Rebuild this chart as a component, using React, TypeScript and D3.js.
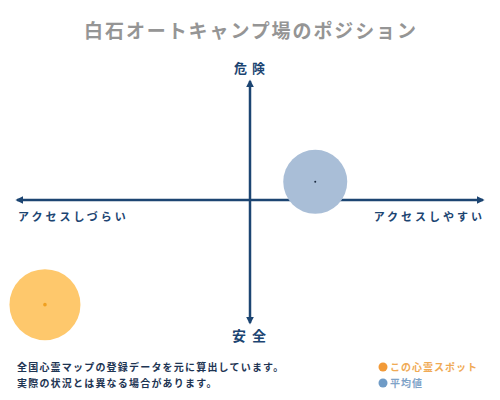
import React, { useRef, useEffect } from "react";
import * as d3 from "d3";

// positions on the access (x) / danger (y) plane, -1..1
const spotNames = ["この心霊スポット", "平均値"];
const spotX = [-0.88, 0.28];
const spotY = [-0.865, 0.15];
const spotRadius = [35.5, 32];
const spotFill = ["#fec86c", "#a9bed7"];
const spotDot = ["#f0a020", "#1b2a40"];
const legendColors = ["#f29a38", "#6f9bc6"];
const legendText = ["#f0aa55", "#7fa3c8"];

const notes = [
  "全国心霊マップの登録データを元に算出しています。",
  "実際の状況とは異なる場合があります。"
];

const FONT = "'Noto Sans CJK JP', sans-serif";
const NAVY = "#1c4572";

const App = () => {
  const node: any = useRef();

  useEffect(() => {
    const width = 500,
      height = 400;
    const svg = d3.select(node.current);
    svg.selectAll("*").remove();
    svg.attr("width", width).attr("height", height);

    const x = d3.scaleLinear().domain([-1, 1]).range([17, 483]);
    const y = d3.scaleLinear().domain([-1, 1]).range([321, 79]);

    svg
      .append("text")
      .attr("x", 251)
      .attr("y", 38)
      .attr("text-anchor", "middle")
      .attr("font-family", FONT)
      .attr("font-size", 19)
      .attr("font-weight", "bold")
      .attr("letter-spacing", 1.9)
      .attr("fill", "#959595")
      .text("白石オートキャンプ場のポジション");

    // arrow heads
    const defs = svg.append("defs");
    defs
      .append("marker")
      .attr("id", "arr")
      .attr("viewBox", "0 0 10 10")
      .attr("refX", 8)
      .attr("refY", 5)
      .attr("markerWidth", 3.2)
      .attr("markerHeight", 3.2)
      .attr("orient", "auto-start-reverse")
      .append("path")
      .attr("d", "M0,0L10,5L0,10z")
      .attr("fill", NAVY);

    const axes = svg.append("g").attr("class", "axes");
    axes
      .append("line")
      .attr("x1", x(-1))
      .attr("x2", x(1))
      .attr("y1", y(0))
      .attr("y2", y(0))
      .attr("stroke", NAVY)
      .attr("stroke-width", 2.5)
      .attr("marker-start", "url(#arr)")
      .attr("marker-end", "url(#arr)");
    axes
      .append("line")
      .attr("x1", x(0))
      .attr("x2", x(0))
      .attr("y1", y(-1) + 2)
      .attr("y2", y(1) + 2)
      .attr("stroke", NAVY)
      .attr("stroke-width", 2.5)
      .attr("marker-start", "url(#arr)")
      .attr("marker-end", "url(#arr)");

    const label = (tx: number, ty: number, t: string, anchor: string, size: number, ls: number) =>
      svg
        .append("text")
        .attr("x", tx)
        .attr("y", ty)
        .attr("text-anchor", anchor)
        .attr("font-family", FONT)
        .attr("font-size", size)
        .attr("font-weight", "bold")
        .attr("letter-spacing", ls)
        .attr("fill", NAVY)
        .text(t);

    label(252, 73, "危険", "middle", 13, 5);
    label(252, 341, "安全", "middle", 14, 6);
    label(18, 221, "アクセスしづらい", "start", 11, 3);
    label(485, 221, "アクセスしやすい", "end", 11, 3);

    // bubbles
    const spots = svg.append("g").attr("class", "spots");
    spots
      .selectAll("circle.bubble")
      .data(spotNames)
      .enter()
      .append("circle")
      .attr("class", "bubble")
      .attr("cx", (_, i) => x(spotX[i]))
      .attr("cy", (_, i) => y(spotY[i]))
      .attr("r", (_, i) => spotRadius[i])
      .attr("fill", (_, i) => spotFill[i]);
    spots
      .selectAll("circle.dot")
      .data(spotNames)
      .enter()
      .append("circle")
      .attr("class", "dot")
      .attr("cx", (_, i) => x(spotX[i]))
      .attr("cy", (_, i) => y(spotY[i]))
      .attr("r", (_, i) => (i === 0 ? 1.8 : 1))
      .attr("fill", (_, i) => spotDot[i]);

    // notes
    svg
      .append("g")
      .selectAll("text")
      .data(notes)
      .enter()
      .append("text")
      .attr("x", 17)
      .attr("y", (_, i) => 371 + i * 16)
      .attr("font-family", FONT)
      .attr("font-size", 10)
      .attr("font-weight", "bold")
      .attr("letter-spacing", 1.2)
      .attr("fill", "#1e3553")
      .text(d => d);

    // legend
    const legend = svg
      .append("g")
      .selectAll("g")
      .data(spotNames)
      .enter()
      .append("g")
      .attr("transform", (_, i) => `translate(383,${367 + i * 16})`);
    legend
      .append("circle")
      .attr("r", 4.5)
      .attr("fill", (_, i) => legendColors[i]);
    legend
      .append("text")
      .attr("x", 7)
      .attr("y", 4)
      .attr("font-family", FONT)
      .attr("font-size", 10)
      .attr("font-weight", "bold")
      .attr("letter-spacing", 1)
      .attr("fill", (_, i) => legendText[i])
      .text(d => d);
  }, []);

  return (
    <div style={{ position: "absolute", left: 0, top: 0 }}>
      <svg ref={node}></svg>
    </div>
  );
};

export default App;
